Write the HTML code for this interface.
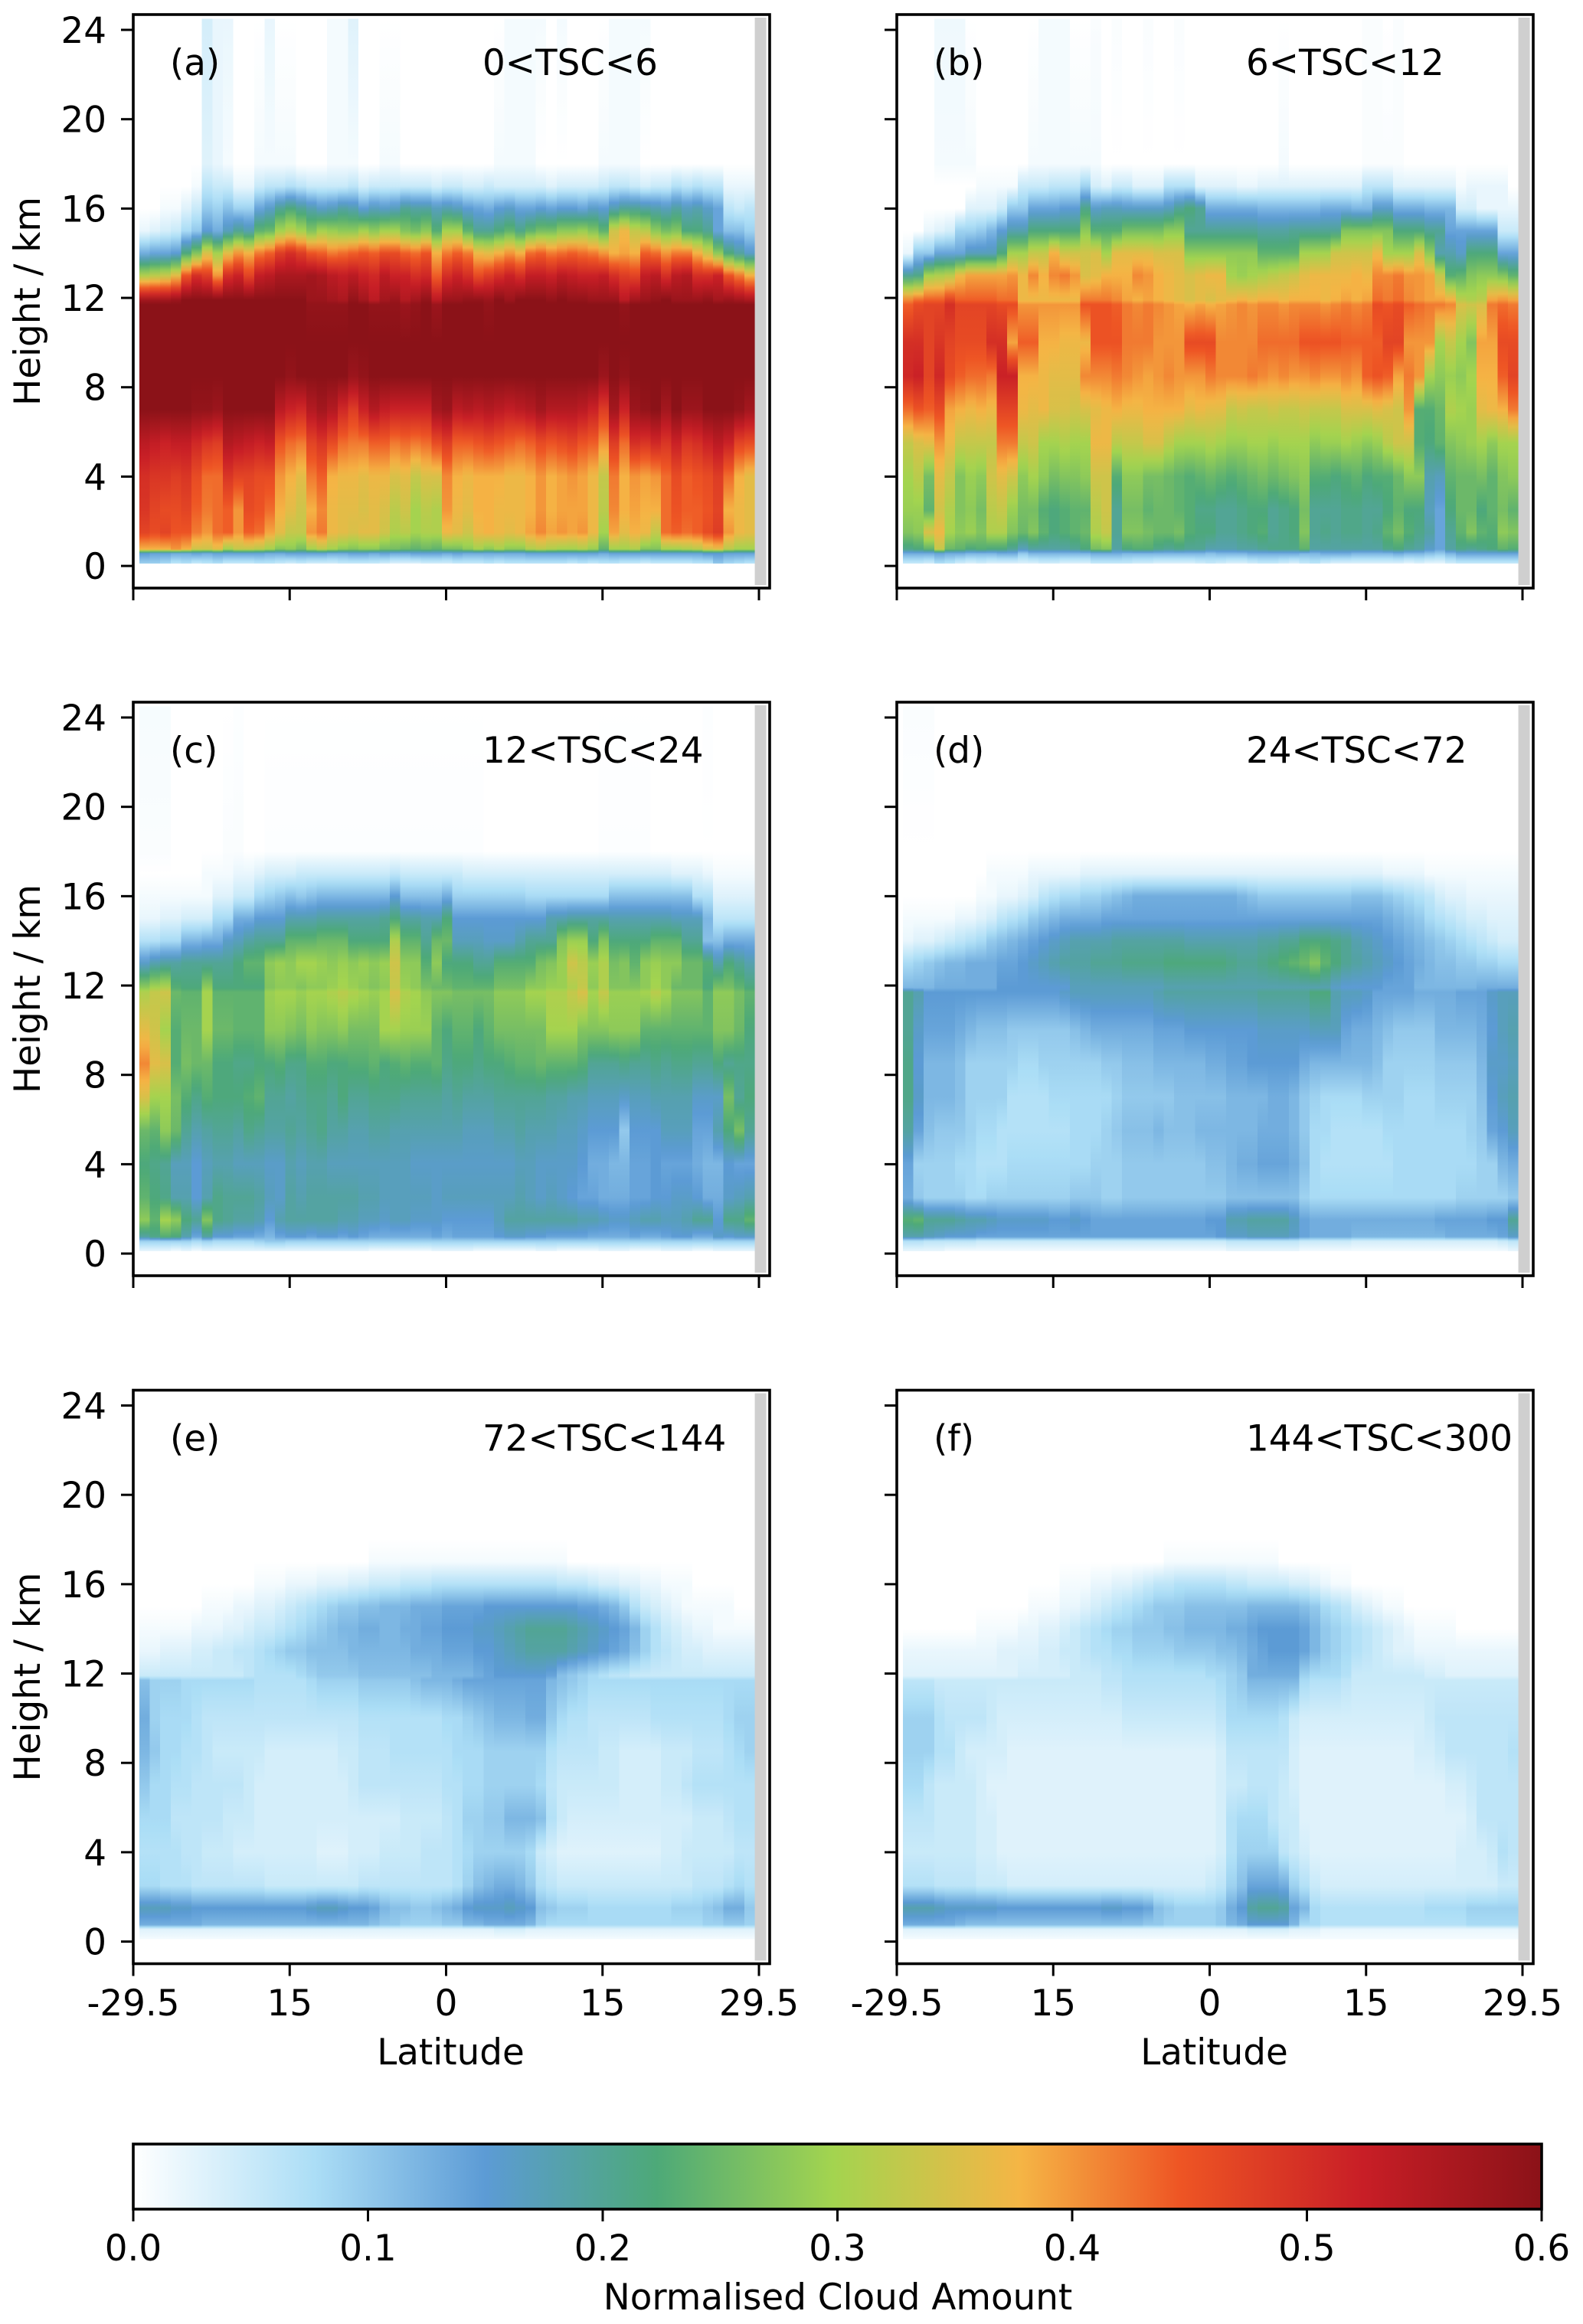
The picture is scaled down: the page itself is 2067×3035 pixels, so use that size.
<!DOCTYPE html>
<html lang="en">
<head>
<meta charset="utf-8">
<title>Normalised cloud amount by latitude and height</title>
<style>
html,body{margin:0;padding:0;background:#fff;}
svg{display:block;}
text{font-family:"DejaVu Sans","Liberation Sans",sans-serif;font-size:46.8px;fill:#000;}
</style>
</head>
<body>
<svg id="figure" xmlns="http://www.w3.org/2000/svg" width="2067" height="3035" viewBox="0 0 2067 3035"><defs id="defs"></defs></svg>
<script>
// Height levels (km) shared by every panel. Each panel row below is one level; values are cloud amount x 100, one per 1-degree latitude column.
const heightLevels = [0.1,0.55,0.75,1.5,2.5,4,5.5,7,8.5,10,11.7,11.9,13,14,15,16,17,18,24.5];
const panelTags = ['(a)','(b)','(c)','(d)','(e)','(f)'];
const panelRanges = ['0<TSC<6','6<TSC<12','12<TSC<24','24<TSC<72','72<TSC<144','144<TSC<300'];
const yTickValues = [0,4,8,12,16,20,24];
const xTickLabels = ['-29.5','15','0','15','29.5'];
const colorbarTicks = ['0.0','0.1','0.2','0.3','0.4','0.5','0.6'];

const panelA = [
[9,9,8,6,7,5,6,7,5,5, 5,6,6,5,4,5,4,4,4,5, 5,5,5,4,3,3,3,4,4,4, 5,5,5,6,5,6,6,6,6,6, 6,5,6,5,6,6,5,5,4,5, 5,5,5,6,6,10,8,7,6],
[15,14,14,13,13,14,13,14,14,14, 14,14,13,13,14,14,14,14,13,13, 14,14,13,14,13,13,14,14,14,13, 14,13,13,13,13,13,13,14,14,14, 14,14,14,14,13,14,14,14,14,14, 14,14,14,14,15,15,14,14,14],
[38,38,38,40,38,34,34,36,30,33, 33,32,30,27,28,26,30,32,30,28, 27,28,28,26,26,25,24,25,24,26, 26,28,30,28,30,28,28,31,32,31, 30,30,31,29,24,30,30,31,27,27, 30,30,31,32,35,36,32,30,30],
[47,46,47,45,45,42,40,43,44,40, 44,43,39,36,33,33,40,42,37,36, 35,36,36,34,31,32,30,31,31,37, 36,34,37,38,37,36,37,39,41,39, 40,39,40,37,30,39,36,38,37,33, 43,44,43,44,46,48,40,37,36],
[49,47,46,46,47,44,42,43,44,40, 46,45,43,38,36,34,38,41,37,36, 36,35,36,35,32,34,30,32,31,40, 37,36,38,38,37,37,37,38,40,38, 39,39,39,37,32,41,38,39,38,38, 43,45,44,44,45,47,38,37,36],
[50,49,49,48,49,46,43,43,49,47, 47,46,46,40,38,36,42,44,38,37, 37,36,37,37,35,36,33,35,35,41, 38,37,38,38,38,37,37,38,40,38, 39,40,39,37,33,42,38,40,39,40, 43,46,44,45,46,48,43,38,36],
[54,53,52,53,53,51,49,48,55,54, 53,52,53,45,43,42,47,49,46,43, 42,42,44,44,42,43,42,43,46,48, 44,44,45,46,45,44,43,44,46,45, 46,47,45,44,40,48,43,50,49,51, 49,52,49,50,52,54,52,47,46],
[60,60,60,60,60,59,59,58,60,60, 60,60,60,54,52,51,55,57,55,51, 48,52,55,53,52,52,52,52,57,58, 54,55,54,55,54,53,54,55,57,55, 55,55,54,52,48,57,52,58,59,60, 57,60,58,58,60,60,60,59,57],
[60,60,60,60,60,60,60,60,60,60, 60,60,60,60,59,60,60,60,60,60, 58,59,60,60,60,60,60,60,60,60, 60,60,60,60,60,60,60,60,60,60, 60,60,60,60,58,60,59,60,60,60, 60,60,60,60,60,60,60,60,60],
[60,60,60,60,60,60,60,60,60,60, 60,60,60,60,60,60,60,60,60,60, 60,60,60,60,60,60,60,60,60,60, 60,60,60,60,60,60,60,60,60,60, 60,60,60,60,60,60,60,60,60,60, 60,60,60,60,60,60,60,60,60],
[60,60,60,60,60,60,60,60,60,60, 60,60,60,60,60,60,59,59,59,59, 60,60,59,59,59,58,59,60,58,60, 60,60,60,59,60,60,60,60,60,60, 60,60,60,60,60,60,59,60,60,60, 60,60,60,60,60,60,60,60,60],
[57,57,57,58,60,60,60,60,60,60, 60,60,60,60,60,60,58,58,57,56, 59,57,54,57,58,55,57,59,54,58, 58,59,59,58,60,58,60,60,60,59, 60,59,59,58,58,58,54,57,58,59, 60,58,58,58,59,57,58,57,56],
[31,32,33,36,45,50,48,40,50,52, 47,53,54,56,56,56,57,56,54,53, 54,52,51,54,52,52,50,51,44,50, 52,50,46,48,50,52,50,53,53,52, 54,53,52,52,53,50,48,47,53,54, 50,54,55,50,50,52,45,42,38],
[13,14,14,15,22,27,35,30,36,40, 38,42,44,48,50,48,45,44,42,43, 44,45,44,46,46,44,43,45,38,42, 44,42,37,36,38,40,38,43,44,42, 43,44,43,42,40,38,39,38,44,43, 40,42,42,38,34,28,22,19,16],
[2,3,4,5,8,10,15,13,17,20, 18,24,25,30,32,30,27,30,29,28, 28,30,28,30,30,27,26,28,23,30, 30,24,20,20,22,24,21,24,26,26, 28,28,29,27,24,34,37,33,32,28, 26,27,22,22,20,14,11,11,9],
[0,0,1,1,3,5,10,9,11,9, 9,14,16,20,22,20,18,16,17,19, 18,15,17,16,17,20,19,19,17,18, 17,15,14,13,15,16,14,14,15,14, 15,15,14,16,15,18,20,20,19,18, 17,19,17,18,16,14,6,5,6],
[0,0,0,0,0,1,6,5,5,2, 2,5,6,6,7,6,5,5,5,5, 6,4,5,5,5,5,5,5,4,5, 5,4,4,5,4,4,4,4,4,3, 4,4,4,4,5,6,6,5,4,5, 5,7,6,7,6,6,2,2,2],
[0,0,0,0,0,0,3,2,1,0, 0,1,1,1,1,0,0,0,1,1, 1,0,0,1,1,0,0,0,0,0, 0,0,0,0,1,1,1,1,0,0, 0,0,0,0,1,1,1,1,0,0, 0,0,0,0,0,0,0,0,0],
[0,0,0,0,0,0,4,2,2,0, 0,0,2,0,0,0,0,0,1,1, 3,0,0,0,0,0,0,0,0,0, 0,0,0,0,0,1,1,1,1,0, 1,0,0,0,0,1,1,1,1,0, 0,0,0,0,0,0,0,0,0]
];

const panelB = [
[5,5,4,7,6,4,3,4,3,3, 3,3,3,4,4,3,3,3,5,5, 5,5,4,4,3,3,3,3,4,5, 4,3,3,4,5,5,4,3,5,6, 4,3,3,3,3,3,3,3,2,3, 2,2,4,5,5,5,5,5,5],
[13,13,13,14,13,13,12,12,12,13, 13,10,12,12,12,12,12,12,13,13, 13,12,12,12,12,12,12,12,12,11, 12,12,12,13,13,13,13,13,12,12, 13,13,13,12,12,12,12,13,12,12, 11,10,12,14,14,14,14,14,14],
[21,22,24,33,25,24,22,23,22,22, 20,17,19,19,19,19,20,22,26,27, 19,22,23,23,21,20,21,20,20,18, 18,18,19,19,20,21,21,21,24,19, 19,19,19,19,19,19,21,22,20,19, 16,14,19,21,20,21,22,24,23],
[27,28,35,37,30,28,29,27,31,31, 27,25,27,24,22,23,24,25,31,33, 20,27,27,26,25,25,26,23,22,22, 20,20,21,22,23,20,21,22,27,20, 21,20,21,21,20,21,24,26,23,21, 19,14,20,24,27,24,23,28,27],
[29,29,24,34,31,27,28,26,32,33, 29,26,26,23,22,23,24,24,32,34, 20,26,26,24,25,25,24,23,21,21, 20,20,21,22,22,20,21,22,26,20, 20,20,21,21,20,20,22,24,22,22, 17,14,22,25,25,22,24,26,24],
[30,32,26,36,33,27,29,28,34,36, 34,28,30,28,26,27,27,28,34,34, 23,28,28,26,26,25,24,23,24,25, 24,23,24,25,26,25,26,27,28,23, 23,22,23,24,22,23,23,25,28,28, 18,17,24,25,25,26,24,27,28],
[33,35,36,40,37,33,33,33,33,42, 42,33,34,30,30,31,30,30,37,37, 32,33,33,35,35,32,30,30,30,31, 30,29,29,30,30,29,30,30,30,28, 29,29,30,29,28,29,32,34,34,23, 22,24,27,28,29,30,28,30,30],
[43,45,44,46,39,38,37,38,37,47, 47,37,36,37,35,35,34,35,36,37, 38,37,37,38,38,38,38,36,37,36, 36,33,34,33,33,34,33,33,34,33, 33,33,35,35,35,36,35,34,40,23, 23,25,31,30,29,36,37,38,42],
[51,52,47,51,46,44,43,43,42,52, 52,38,38,37,36,36,36,41,41,41, 42,41,40,39,40,41,40,40,40,42, 41,41,41,42,41,40,41,40,40,41, 40,40,41,40,44,45,44,39,42,40, 30,28,29,28,30,38,38,44,47],
[50,50,47,49,47,46,46,46,50,50, 39,44,44,38,38,37,37,37,45,45, 45,42,42,42,40,40,40,46,46,46, 41,41,41,41,43,43,43,43,45,45, 45,45,44,44,44,44,47,47,40,40, 40,30,33,30,27,39,39,46,46],
[44,46,47,47,50,47,47,47,47,46, 46,40,40,40,40,40,40,45,45,45, 44,42,41,42,41,40,39,38,39,38, 39,40,41,40,41,41,40,41,41,41, 40,41,42,41,42,46,45,46,44,43, 42,42,41,35,34,35,42,43,42],
[41,43,44,44,47,44,44,44,44,43, 43,37,37,37,37,37,37,42,42,42, 41,39,38,39,38,37,36,35,36,35, 36,37,38,37,38,38,37,38,38,38, 37,38,39,38,39,43,42,43,41,40, 39,39,38,32,31,32,39,40,39],
[20,21,30,31,32,37,39,39,39,39, 40,37,41,38,41,42,40,35,36,38, 38,38,41,40,38,37,36,35,36,37, 37,30,29,30,31,32,33,34,36,37, 37,37,37,38,37,41,41,42,40,40, 39,33,23,24,27,28,28,27,24],
[2,10,10,14,14,14,17,17,17,22, 30,30,33,33,38,34,34,34,35,30, 36,36,36,36,35,35,35,28,28,28, 28,28,28,28,24,24,24,24,30,30, 30,34,34,34,34,37,30,30,30,35, 28,18,18,16,22,22,22,14,14],
[0,0,2,3,4,9,9,10,12,15, 18,18,22,22,22,22,22,28,23,23, 23,26,26,26,26,28,28,20,20,20, 20,20,20,20,19,19,19,20,20,20, 20,20,27,27,27,27,27,22,22,22, 20,20,14,14,14,14,14,5,5],
[0,0,0,0,0,0,3,3,3,5, 10,10,14,14,14,15,15,21,16,17, 17,16,16,16,16,17,20,22,20,13, 13,13,13,13,12,12,12,12,12,12, 13,13,13,12,12,16,16,13,13,13, 12,12,12,4,4,2,2,2,2],
[0,0,0,0,0,0,0,1,1,1, 1,5,5,5,6,6,6,9,4,3, 5,5,3,3,3,7,7,7,3,3, 3,3,2,2,3,3,3,3,3,3, 3,3,3,3,6,6,6,3,3,3, 3,3,3,1,2,2,2,2,0],
[0,0,0,1,1,1,1,0,0,0, 0,0,1,1,1,1,1,1,1,0, 0,0,0,0,0,0,0,0,0,0, 0,0,0,0,0,0,1,0,0,0, 0,0,0,0,0.5,0.5,0.5,0.5,0,0, 0,0,0,0,0,0,0,0,0],
[0,0,0,1.5,1.5,1.5,0,0,0,0, 0,0,0,1,1,1,0,0,0.5,0, 0.5,0,0,0.5,0,0,0.5,0,0,0, 0,0,0,0,0,0,0,0,0,0, 0,0,0,0,0.5,0.5,0,0.5,0,0, 0,0,0,0,0,0,0,0,0]
];

const panelC = [
[2,2,2,1,2,1,2,2,2,2, 2,2,2,2,2,2,2,2,2,2, 2,2,1,1,1,1,1,1,2,2, 2,2,1,1,1,1,1,1,2,2, 1,1,1,1,2,2,2,1,1,1, 2,2,2,1,1,2,2,2,2],
[9,9,9,9,9,8,9,8,8,8, 8,9,10,10,9,9,9,9,9,9, 9,9,9,9,9,9,9,9,9,9, 9,9,9,9,9,9,9,9,9,9, 9,9,9,9,9,9,9,9,9,9, 9,9,9,9,9,9,9,9,9],
[19,21,23,22,18,14,19,15,15,14, 14,13,12,14,15,15,14,15,15,14, 15,14,13,13,13,13,13,13,14,13, 14,14,14,14,15,16,16,15,15,14, 14,14,14,13,13,13,13,14,13,13, 14,15,15,13,13,16,15,16,16],
[28,24,30,28,22,20,27,21,20,19, 19,18,15,18,19,19,19,19,19,18, 18,17,17,16,17,17,16,16,16,15, 15,15,15,15,17,19,19,19,19,19, 19,19,18,18,17,16,16,17,18,18, 17,17,18,20,20,15,21,21,24],
[24,22,21,18,18,15,18,21,20,20, 20,19,17,16,19,18,19,19,19,19, 19,18,18,17,17,17,17,17,16,17, 17,17,17,17,17,17,18,17,16,17, 16,15,14,14,13,13,13,14,14,15, 15,16,16,15,13,13,16,17,18],
[22,21,20,17,17,15,17,18,18,17, 17,17,16,16,18,17,18,18,17,17, 17,17,17,17,17,17,16,16,16,16, 16,16,16,16,16,16,17,17,16,16, 16,16,15,13,13,12,12,14,14,15, 14,14,14,13,12,12,15,14,14],
[25,24,28,25,20,18,19,20,20,19, 21,20,19,19,20,19,20,21,19,19, 18,18,19,19,18,18,18,18,18,18, 18,17,17,17,18,18,19,18,18,18, 17,17,16,15,15,15,10,15,15,15, 17,17,17,14,14,18,22,26,20],
[35,30,30,26,23,21,23,22,22,22, 23,24,20,20,19,20,21,21,20,22, 20,20,21,21,21,20,20,20,20,19, 20,19,19,19,20,20,20,20,20,19, 19,18,18,17,17,17,16,17,17,18, 18,18,18,16,16,16,26,20,22],
[41,36,35,23,26,25,25,22,22,21, 21,22,22,23,21,21,23,23,22,22, 23,23,24,22,23,24,23,23,24,21, 22,22,21,22,22,23,24,24,25,24, 24,24,23,20,20,20,21,20,20,21, 20,21,21,20,20,22,20,21,21],
[36,34,30,23,25,25,30,25,25,24, 24,24,28,28,27,26,28,27,27,28, 26,26,26,30,30,29,29,29,24,22, 24,24,22,24,26,26,26,26,26,30, 30,30,27,27,27,28,28,28,24,24, 24,24,24,24,24,27,27,25,22],
[31,33,34,25,24,24,30,24,24,24, 24,24,29,30,30,29,30,30,31,32, 31,30,29,30,35,31,30,28,27,27, 26,26,26,26,28,28,28,30,30,31, 31,33,35,30,33,29,29,29,30,32, 30,27,27,27,24,28,28,26,24],
[28,30,31,23,22,22,28,22,22,22, 22,22,27,28,28,27,28,28,29,30, 29,28,27,28,33,29,28,26,25,25, 24,24,24,24,26,26,26,28,28,29, 29,31,33,28,31,27,27,27,28,30, 28,25,25,25,22,26,26,24,22],
[16,18,19,19,20,20,20,20,20,22, 24,24,28,29,28,30,30,29,28,29, 28,29,28,29,34,28,28,23,28,22, 22,22,20,20,23,23,23,23,26,27, 29,34,32,29,31,26,27,24,28,29, 28,28,25,25,23,18,22,20,18],
[7,7,8,8,12,12,13,13,16,17, 19,20,20,20,24,24,24,25,25,25, 22,22,22,22,31,24,24,20,25,25, 17,17,17,16,16,16,18,20,20,20, 27,29,29,22,27,22,22,22,22,24, 24,24,20,20,11,11,13,13,13],
[2,2,3,3,4,4,4,8,8,13, 13,15,15,15,18,18,18,19,19,19, 19,19,19,20,22,19,19,18,18,22, 15,15,15,15,15,15,15,15,15,18, 18,19,19,19,19,18,18,18,18,18, 18,17,17,17,12,6,6,6,6],
[1,1,1,1,1,1,1,3,3,5, 5,8,9,10,11,10,11,12,12,12, 12,12,12,12,15,11,11,11,11,13, 9,9,9,9,9,9,9,8,8,8, 8,8,8,8,8,11,11,11,11,11, 11,11,11,7,7,3,3,3,3],
[0,0,0,0,0,0,1,1,1,2, 2,3,4,4,4,5,5,5,5,5, 5,5,5,5,6,5,5,5,5,5, 5,4,4,4,4,4,4,4,4,4, 4,4,4,4,4,4,4,4,4,4, 4,3,3,3,2,1,1,1,1],
[0.5,0.5,0.5,0,0,0,0,0,0.5,0.5, 0,0,0.3,0.3,0.3,0.3,0.3,0.3,0.3,0.3, 0.3,0.3,0.3,0.3,0.3,0.3,0.3,0.3,0.3,0.3, 0.3,0.3,0.3,0,0,0,0,0,0,0, 0,0,0,0,0.3,0.3,0.3,0.3,0.3,0, 0,0,0,0,0,0,0,0,0],
[0.8,0.8,0.8,0,0,0,0,0,0,0.3, 0,0,0,0,0,0,0,0,0,0, 0,0,0,0,0,0,0,0,0,0, 0,0,0,0,0,0,0,0,0,0, 0,0,0,0,0,0,0,0,0,0, 0,0,0,0,0.3,0,0,0,0]
];

const panelD = [
[2,2,2,2,1,1,1,1,1,1, 1,1,1,1,1,1,1,1,1,1, 1,1,1,1,1,1,1,1,1,1, 1,2,2,2,2,2,2,2,1,1, 1,1,1,1,1,1,1,1,1,1, 1,1,1,1,1,1,1,1,2],
[7,7,6,6,6,6,6,5,5,5, 5,5,5,5,5,5,5,5,5,5, 5,5,5,5,5,5,5,5,5,5, 5,6,6,6,6,6,6,6,5,5, 5,5,5,4,4,4,4,4,4,4, 4,4,4,4,4,4,4,5,6],
[18,18,17,16,15,15,15,14,14,14, 14,14,14,14,14,14,14,14,14,14, 14,14,14,14,14,14,14,14,14,14, 15,16,16,17,17,17,17,16,14,13, 13,13,13,12,12,12,12,12,12,12, 12,12,13,13,13,13,13,14,16],
[23,24,20,20,20,19,18,18,17,16, 16,16,16,16,15,15,16,15,14,14, 14,14,14,14,14,14,14,14,14,15, 15,18,18,19,19,19,19,17,14,13, 13,13,13,13,13,13,13,13,13,13, 13,14,14,14,14,14,15,15,20],
[13,10,9,9,9,9,8,8,9,9, 9,9,9,9,9,9,10,10,10,9, 9,10,10,10,10,10,10,10,10,10, 10,11,11,11,11,11,11,11,9,8, 8,8,8,8,8,8,8,8,8,8, 8,8,8,9,9,9,9,9,10],
[14,9,9,9,9,8,8,7,7,7, 8,8,8,8,8,8,8,8,9,9, 9,10,10,10,10,10,10,10,10,11, 11,12,13,13,14,14,14,13,11,8, 7,7,7,7,7,7,7,8,8,8, 8,8,8,8,8,9,9,12,13],
[19,14,11,10,10,10,9,8,8,7, 7,7,7,7,7,7,8,8,8,9, 10,11,11,11,12,11,11,11,12,12, 12,12,12,12,13,13,13,12,10,8, 8,7,7,7,7,7,8,8,8,8, 8,8,8,8,9,10,14,15,17],
[21,16,12,12,12,11,9,9,9,9, 7,7,7,7,8,8,8,8,8,8, 9,10,10,10,10,10,11,11,11,11, 11,12,12,12,12,13,13,12,10,9, 8,8,8,8,9,9,9,9,8,8, 8,9,9,9,9,11,15,17,18],
[21,15,12,12,12,11,9,9,9,9, 9,8,8,9,9,9,9,9,9,10, 10,11,11,11,12,12,12,12,12,13, 13,14,14,15,15,15,15,15,13,12, 12,12,12,12,12,11,9,9,9,9, 9,10,10,10,10,12,16,16,17],
[20,16,14,14,14,13,12,11,11,11, 10,10,10,10,10,10,11,12,13,13, 13,13,13,13,14,14,14,15,15,15, 15,15,15,15,16,16,16,16,16,17, 17,17,14,13,13,12,11,10,10,10, 10,12,12,12,12,13,15,17,18],
[20,18,15,15,15,15,15,15,15,15, 15,15,15,15,15,16,17,17,17,17, 17,17,17,17,18,19,19,19,19,19, 19,19,19,19,20,20,20,20,20,22, 22,18,17,17,16,14,14,14,14,13, 13,13,13,14,14,14,16,17,17],
[12,12,12,13,13,13,13,13,13,15, 15,15,15,15,15,15,17,17,17,17, 17,17,17,17,17,18,18,18,18,18, 18,18,18,18,18,18,18,18,18,18, 18,16,15,15,15,15,14,14,14,12, 12,12,12,12,12,13,13,13,13],
[8,9,10,11,12,12,13,13,13,14, 14,15,16,17,18,19,19,19,20,20, 20,21,21,21,21,22,22,22,22,22, 22,21,20,20,21,22,23,24,25,27, 24,22,20,19,18,17,16,15,14,13, 12,11,11,10,10,9,9,8,8],
[2,3,3,4,5,6,7,8,10,11, 12,13,14,15,16,17,18,18,18,18, 19,19,19,19,19,19,19,18,18,18, 18,18,18,18,19,19,20,20,22,22, 22,21,20,18,17,16,15,14,13,12, 11,10,9,8,7,6,5,4,4],
[1,1,1,1,1,2,2,3,4,6, 7,8,10,11,12,13,13,13,13,14, 14,14,14,14,14,14,14,14,14,14, 14,14,14,14,14,14,14,14,14,14, 14,14,14,14,14,14,13,12,11,10, 8,7,6,5,4,4,3,3,3],
[0,0,0,0,0,0,0,1,1,2, 2,3,4,6,7,8,8,9,9,10, 11,12,13,13,13,13,13,13,13,13, 13,13,12,11,10,10,10,10,10,10, 10,10,10,11,11,11,10,9,8,7, 6,4,3,3,2,2,2,2,2],
[0,0,0,0,0,0,0,0,1,1, 1,1,2,2,2,2,2,3,3,3, 3,3,3,3,3,3,3,3,3,3, 3,3,3,3,3,3,3,3,3,3, 3,3,3,3,3,3,2,2,2,2, 1,1,1,1,1,1,1,1,1],
[0,0,0,0,0,0,0,0,0,0, 0,0,0,0,0,0,0,0,0,0, 0,0,0,0,0,0,0,0,0,0, 0,0,0,0,0,0,0,0,0,0, 0,0,0,0,0,0,0,0,0,0, 0,0,0,0,0,0,0,0,0],
[0.5,0.5,0.5,0,0,0,0,0,0,0, 0,0,0,0,0,0,0,0,0,0, 0,0,0,0,0,0,0,0,0,0, 0,0,0,0,0,0,0,0,0,0, 0,0,0,0,0,0,0,0,0,0, 0,0,0,0,0,0,0,0,0]
];

const panelE = [
[1,1,1,1,1,1,1,1,1,1, 1,1,1,1,1,1,1,1,1,1, 1,1,1,1,1,1,1,1,1,1, 1,1,1,1,1,1,1,1,1,1, 1,1,1,1,1,1,1,1,1,1, 1,1,1,1,1,1,1,1,1],
[3,3,3,3,3,3,3,3,3,3, 3,3,3,3,3,3,3,3,3,3, 3,3,3,3,3,3,3,3,3,3, 3,3,3,3,4,4,4,3,3,3, 3,3,3,3,3,3,3,3,3,3, 3,3,3,3,3,3,3,3,3],
[13,13,13,13,13,13,12,12,12,12, 12,12,12,12,12,12,12,12,12,12, 12,12,11,10,10,9,9,9,9,10, 10,12,12,13,13,13,13,12,9,8, 8,8,8,8,8,8,8,8,8,8, 8,8,8,8,9,9,10,10,9],
[17,17,17,16,16,15,15,15,15,15, 15,15,15,15,15,15,16,17,17,16, 15,15,14,12,11,11,10,10,11,12, 13,15,16,16,16,17,16,15,11,10, 9,9,9,8,8,8,8,8,8,8, 8,9,9,9,10,11,13,13,10],
[8,8,7,7,7,6,6,6,6,6, 6,6,5,5,5,5,5,5,5,5, 5,6,6,6,6,6,6,6,6,6, 7,9,11,12,13,13,12,10,7,6, 5,5,5,5,5,5,5,5,5,5, 5,5,5,6,6,6,7,8,7],
[7,7,7,7,6,6,5,5,5,4, 4,4,4,4,4,4,4,3,3,3, 4,4,4,5,5,5,5,6,6,6, 7,8,9,9,9,9,9,8,5,4, 3,3,3,3,3,3,3,3,3,3, 4,4,5,5,5,5,5,6,6],
[8,8,8,6,6,6,6,6,5,5, 5,4,4,4,4,4,4,4,4,4, 4,4,4,4,4,5,5,5,5,6, 7,9,9,10,10,12,12,12,11,7, 5,4,4,4,4,4,4,4,4,4, 4,4,4,5,5,5,6,7,7],
[10,8,8,7,7,6,6,6,6,6, 5,4,4,4,4,4,4,4,4,4, 5,6,6,6,6,6,6,6,6,7, 7,8,8,9,9,9,9,9,8,6, 5,5,5,5,5,5,4,4,4,4, 5,5,6,7,7,7,7,7,7],
[12,10,8,8,7,7,6,5,5,5, 5,5,4,4,4,4,4,4,4,5, 5,6,6,6,7,7,7,7,7,7, 8,8,8,9,9,9,9,9,9,7, 6,6,6,6,5,5,4,4,4,4, 5,5,5,6,6,6,7,8,9],
[13,9,8,8,8,7,6,6,6,6, 6,6,6,6,6,6,6,6,6,6, 6,7,7,7,7,7,7,7,7,8, 8,9,10,11,12,12,12,13,13,10, 8,7,7,6,6,6,6,6,6,7, 7,7,7,7,7,7,8,9,9],
[11,9,9,9,8,8,8,8,8,8, 8,7,7,7,7,7,8,9,9,9, 9,10,10,10,10,10,11,12,12,12, 13,14,14,14,14,14,14,14,14,12, 11,10,9,8,8,8,8,8,8,8, 8,8,8,8,8,8,8,8,8],
[5,5,5,5,5,5,5,5,5,5, 6,7,7,7,7,8,9,10,10,10, 10,11,11,11,11,11,11,11,12,12, 12,12,13,14,15,15,15,15,15,14, 11,10,9,8,7,6,6,5,5,5, 5,5,5,5,5,5,5,5,5],
[2,2,3,3,3,4,4,5,5,6, 6,7,8,9,10,10,11,11,11,11, 12,12,12,12,12,12,13,13,13,14, 14,14,15,15,16,17,18,19,19,19, 19,18,17,16,15,14,13,11,9,7, 6,5,4,4,3,3,3,3,3],
[1,1,1,1,1,2,2,2,3,3, 4,5,5,6,7,8,9,10,11,12, 12,13,13,12,12,13,13,14,14,15, 15,15,16,16,17,18,19,20,20,20, 20,19,18,17,16,15,14,12,9,7, 5,4,3,2,2,1,1,1,1],
[0,0,0,0,0,0,1,1,1,2, 2,3,3,4,5,6,7,8,9,10, 10,11,11,12,12,12,13,13,13,14, 14,14,14,15,15,15,15,15,15,15, 15,15,14,14,13,12,10,7,5,4, 3,2,1,1,1,1,1,0,0],
[0,0,0,0,0,0,0,0,0,0, 0,1,1,1,2,2,2,3,3,3, 4,4,5,5,5,6,6,6,7,7, 7,7,7,7,7,7,7,7,7,7, 6,6,6,5,4,4,3,3,2,2, 1,1,1,0,0,0,0,0,0],
[0,0,0,0,0,0,0,0,0,0, 0,0,0,0,0,0,0,0,0,0, 0,0,1,1,1,1,1,1,1,1, 1,1,1,1,1,1,1,1,1,1, 1,0,0,0,0,0,0,0,0,0, 0,0,0,0,0,0,0,0,0],
[0,0,0,0,0,0,0,0,0,0, 0,0,0,0,0,0,0,0,0,0, 0,0,0,0,0,0,0,0,0,0, 0,0,0,0,0,0,0,0,0,0, 0,0,0,0,0,0,0,0,0,0, 0,0,0,0,0,0,0,0,0],
[0,0,0,0,0,0,0,0,0,0, 0,0,0,0,0,0,0,0,0,0, 0,0,0,0,0,0,0,0,0,0, 0,0,0,0,0,0,0,0,0,0, 0,0,0,0,0,0,0,0,0,0, 0,0,0,0,0,0,0,0,0]
];

const panelF = [
[1,1,1,1,1,1,1,1,1,1, 1,1,1,1,1,1,1,1,1,1, 1,1,1,1,1,1,1,1,1,1, 1,1,1,1,1,1,1,1,1,1, 1,1,1,1,1,1,1,1,1,1, 1,1,1,1,1,1,1,1,1],
[3,3,3,3,3,3,3,3,3,3, 3,3,3,3,3,3,3,3,3,3, 3,3,3,3,3,3,3,3,3,3, 3,3,3,4,4,4,4,3,3,3, 2,2,2,2,2,2,2,2,2,2, 2,2,2,2,2,2,2,2,2],
[13,13,13,13,13,12,11,11,11,11, 11,11,11,11,11,11,11,11,11,11, 11,11,11,10,10,9,9,9,9,9, 10,12,13,15,15,15,15,12,8,8, 7,7,7,7,7,7,7,7,7,7, 7,7,7,7,8,8,8,8,8],
[18,18,18,17,16,16,16,16,16,15, 15,15,15,15,15,15,15,15,15,16, 16,15,15,14,11,10,9,9,9,9, 10,13,15,19,20,20,19,14,12,8, 7,7,7,7,7,7,7,7,7,7, 8,8,8,8,9,9,9,9,9],
[7,7,7,6,6,6,6,5,5,5, 4,4,4,4,4,4,4,4,4,4, 4,4,4,4,4,4,4,4,4,5, 6,9,11,14,14,14,13,9,7,5, 4,4,4,4,4,4,4,4,4,4, 4,4,4,4,4,4,4,5,5],
[5,5,5,5,5,5,5,4,4,3, 3,3,3,3,3,3,3,3,3,3, 3,3,3,3,3,3,3,3,3,3, 4,7,9,9,9,9,6,5,4,3, 3,3,3,3,3,3,3,3,3,3, 3,3,3,4,4,4,5,7,6],
[6,6,6,5,5,5,5,4,4,3, 3,3,3,3,3,3,3,3,3,3, 3,3,3,3,3,3,3,3,3,3, 4,7,8,8,8,6,5,5,3,3, 3,3,3,3,3,3,3,3,3,3, 3,3,3,3,4,6,6,6,6],
[8,8,6,5,5,5,5,4,3,3, 3,3,3,3,3,3,3,3,3,3, 3,3,3,3,3,3,3,3,3,3, 4,5,5,6,6,6,5,4,3,3, 3,3,3,3,3,3,3,3,3,3, 3,3,4,4,5,6,6,6,6],
[9,9,9,7,7,5,4,4,4,4, 3,3,3,3,3,3,3,3,3,3, 3,3,3,3,3,3,3,3,3,3, 4,6,6,6,6,6,6,4,3,3, 3,3,3,3,3,3,3,3,3,4, 4,5,6,6,6,6,6,6,7],
[9,9,9,7,6,6,6,6,5,4, 4,4,4,4,4,4,4,4,4,4, 4,5,5,5,5,5,5,5,5,5, 6,8,8,8,8,8,7,5,4,4, 4,4,4,4,4,4,4,4,4,4, 5,6,6,6,6,6,6,6,6],
[6,6,6,5,5,5,5,5,5,5, 5,5,5,5,5,5,5,5,5,6, 6,7,7,7,7,7,7,7,7,7, 8,9,10,12,12,12,12,12,8,7, 7,7,6,5,5,5,5,5,5,5, 5,5,5,5,5,5,5,5,5],
[3,3,3,3,3,3,3,3,3,3, 3,4,4,4,4,4,5,5,5,6, 6,7,7,7,7,7,7,7,7,8, 8,9,10,13,13,13,13,13,9,8, 8,8,7,5,5,5,5,5,5,5, 4,4,3,3,3,3,3,3,3],
[2,2,2,2,2,2,2,2,2,3, 3,3,3,4,4,5,5,6,7,7, 8,8,9,9,9,9,10,10,10,10, 11,11,12,13,14,15,15,15,14,12, 10,9,8,7,6,5,4,3,3,2, 2,2,2,2,2,2,2,2,2],
[0,0,0,0,0,0,0,1,1,1, 1,2,2,3,3,4,5,6,7,8, 9,9,10,10,10,11,11,12,12,12, 12,13,13,14,15,15,15,15,14,12, 10,9,8,7,6,5,4,3,2,1, 1,1,1,0,0,0,0,0,0],
[0,0,0,0,0,0,0,0,0,0, 0,0,1,1,1,2,2,3,4,5, 6,7,8,9,10,10,10,11,11,11, 11,11,11,12,12,12,12,12,11,10, 8,7,6,4,3,2,1,1,0,0, 0,0,0,0,0,0,0,0,0],
[0,0,0,0,0,0,0,0,0,0, 0,0,0,0,0,1,1,1,2,2, 3,3,4,5,6,6,7,7,7,7, 7,6,6,5,5,5,5,4,4,3, 2,1,1,0,0,0,0,0,0,0, 0,0,0,0,0,0,0,0,0],
[0,0,0,0,0,0,0,0,0,0, 0,0,0,0,0,0,0,0,0,0, 0,0,0,0,0,1,1,1,1,1, 1,1,1,1,1,1,0,0,0,0, 0,0,0,0,0,0,0,0,0,0, 0,0,0,0,0,0,0,0,0],
[0,0,0,0,0,0,0,0,0,0, 0,0,0,0,0,0,0,0,0,0, 0,0,0,0,0,0,0,0,0,0, 0,0,0,0,0,0,0,0,0,0, 0,0,0,0,0,0,0,0,0,0, 0,0,0,0,0,0,0,0,0],
[0,0,0,0,0,0,0,0,0,0, 0,0,0,0,0,0,0,0,0,0, 0,0,0,0,0,0,0,0,0,0, 0,0,0,0,0,0,0,0,0,0, 0,0,0,0,0,0,0,0,0,0, 0,0,0,0,0,0,0,0,0]
];

const panels = [panelA,panelB,panelC,panelD,panelE,panelF];

// Colormap: value, red, green, blue.
const cmapValues = [0,0.077,0.15,0.223,0.298,0.378,0.446,0.524,0.6];
const cmapRed    = [255,172,92,77,163,245,238,200,139];
const cmapGreen  = [255,222,155,169,212,181,85,30,18];
const cmapBlue   = [255,246,213,120,79,69,36,38,24];

const svg = document.getElementById('figure');
const defs = document.getElementById('defs');
const NS = 'http://www.w3.org/2000/svg';

function mk(tag, attrs, parent){
  const n = document.createElementNS(NS, tag);
  for (const k in attrs) n.setAttribute(k, attrs[k]);
  parent.appendChild(n);
  return n;
}
function colorOf(v){
  if (v <= cmapValues[0]) return 'rgb(255,255,255)';
  const last = cmapValues.length - 1;
  if (v >= cmapValues[last]) return 'rgb(' + cmapRed[last] + ',' + cmapGreen[last] + ',' + cmapBlue[last] + ')';
  let i = 0;
  while (v > cmapValues[i + 1]) i++;
  const t = (v - cmapValues[i]) / (cmapValues[i + 1] - cmapValues[i]);
  const c = a => Math.round(a[i] + (a[i + 1] - a[i]) * t);
  return 'rgb(' + c(cmapRed) + ',' + c(cmapGreen) + ',' + c(cmapBlue) + ')';
}

// Geometry of the figure
const columnLefts = [174, 1171];
const rowTops = [19, 917, 1815.5];
const panelW = 831, panelH = 749;
const kmPx = 29.17, colPx = 13.62, heatInset = 8, columnCount = 59;
const yOf = (top, km) => top + 20 + (24 - km) * kmPx;
const colX = (left, i) => left + heatInset + i * colPx;
const xTickX = (left, i) => left + i * 204.25;

panels.forEach(function (rows, p) {
  const left = columnLefts[p % 2];
  const top = rowTops[Math.floor(p / 2)];
  const g = mk('g', {}, svg);
  
  

  const heat = mk('g', {'shape-rendering': 'crispEdges'}, g);
  
  
  const lvTop = heightLevels[heightLevels.length - 1], lvBot = heightLevels[0];
  const yT = yOf(top, lvTop), yB = yOf(top, lvBot);

  for (let c = 0; c < columnCount; c++) {
    const id = 'g' + p + '-' + c;
    const grad = mk('linearGradient', {id: id, x1: 0, y1: 0, x2: 0, y2: 1}, defs);
    for (let l = heightLevels.length - 1; l >= 0; l--) {
      const v = (rows[l][c] || 0) / 100;
      const off = (lvTop - heightLevels[l]) / (lvTop - lvBot);
      mk('stop', {offset: off.toFixed(5), 'stop-color': colorOf(v)}, grad);
      if (l > 0) {
        const below = (rows[l - 1][c] || 0) / 100;
        const off2 = (lvTop - heightLevels[l - 1]) / (lvTop - lvBot);
        for (let s = 1; s < 4; s++) {
          const f = s / 4;
          mk('stop', {offset: (off + (off2 - off) * f).toFixed(5), 'stop-color': colorOf(v + (below - v) * f)}, grad);
        }
      }
    }
    const cell = mk('rect', {x: colX(left, c).toFixed(2), y: yT.toFixed(1), width: (colPx + 0.6).toFixed(2), height: (yB - yT).toFixed(1), fill: 'url(#' + id + ')'}, heat);
    
    
  }

  const mask = mk('rect', {x: left + heatInset + columnCount * colPx, y: top + 4, width: 15, height: panelH - 8, fill: '#cfcfcf'}, g);
  
  

  const frame = mk('rect', {x: left, y: top, width: panelW, height: panelH, fill: 'none', stroke: '#000', 'stroke-width': 3.6}, g);
  
  

  yTickValues.forEach(function (h) {
    const y = yOf(top, h);
    const t = mk('line', {x1: left - 16, x2: left, y1: y, y2: y, stroke: '#000', 'stroke-width': 3}, g);
    
    
    if (p % 2 === 0) {
      const tl = mk('text', {x: left - 35, y: y + 17, 'text-anchor': 'end'}, g);
      tl.textContent = String(h);
      
      
    }
  });

  xTickLabels.forEach(function (lab, i) {
    const x = xTickX(left, i);
    const t = mk('line', {x1: x, x2: x, y1: top + panelH, y2: top + panelH + 16, stroke: '#000', 'stroke-width': 3}, g);
    
    
    if (p >= 4) {
      const tl = mk('text', {x: x, y: 2632, 'text-anchor': 'middle'}, g);
      tl.textContent = lab;
      
      
    }
  });

  const tag = mk('text', {x: left + 48, y: top + 79}, g);
  tag.textContent = panelTags[p];
  
  

  const range = mk('text', {x: left + 456, y: top + 79}, g);
  range.textContent = panelRanges[p];
  
  

  if (p % 2 === 0) {
    const cy = top + panelH / 2;
    const yt = mk('text', {x: 52, y: cy, 'text-anchor': 'middle', transform: 'rotate(-90 52 ' + cy + ')'}, g);
    yt.textContent = 'Height / km';
    
    
  }
  if (p >= 4) {
    const xt = mk('text', {x: left + 414.5, y: 2696, 'text-anchor': 'middle'}, g);
    xt.textContent = 'Latitude';
    
    
  }
});

// Colorbar
const cbL = 174, cbR = 2013, cbT = 2800, cbB = 2885;
const cbX = v => cbL + v / 0.6 * (cbR - cbL);
const cbGrad = mk('linearGradient', {id: 'cbgrad', x1: 0, y1: 0, x2: 1, y2: 0}, defs);
cmapValues.forEach(function (v) {
  mk('stop', {offset: (v / 0.6).toFixed(4), 'stop-color': colorOf(v)}, cbGrad);
});
const cb = mk('g', {}, svg);


const cbRamp = mk('rect', {x: cbL, y: cbT, width: cbR - cbL, height: cbB - cbT, fill: 'url(#cbgrad)', stroke: '#000', 'stroke-width': 3.6}, cb);


colorbarTicks.forEach(function (lab) {
  const x = cbX(parseFloat(lab));
  const t = mk('line', {x1: x, x2: x, y1: cbB, y2: cbB + 16, stroke: '#000', 'stroke-width': 3}, cb);
  
  
  const tl = mk('text', {x: x, y: 2952, 'text-anchor': 'middle'}, cb);
  tl.textContent = lab;
  
  
});
const cbTitle = mk('text', {x: 1094, y: 3016, 'text-anchor': 'middle'}, cb);
cbTitle.textContent = 'Normalised Cloud Amount';


</script>
</body>
</html>
